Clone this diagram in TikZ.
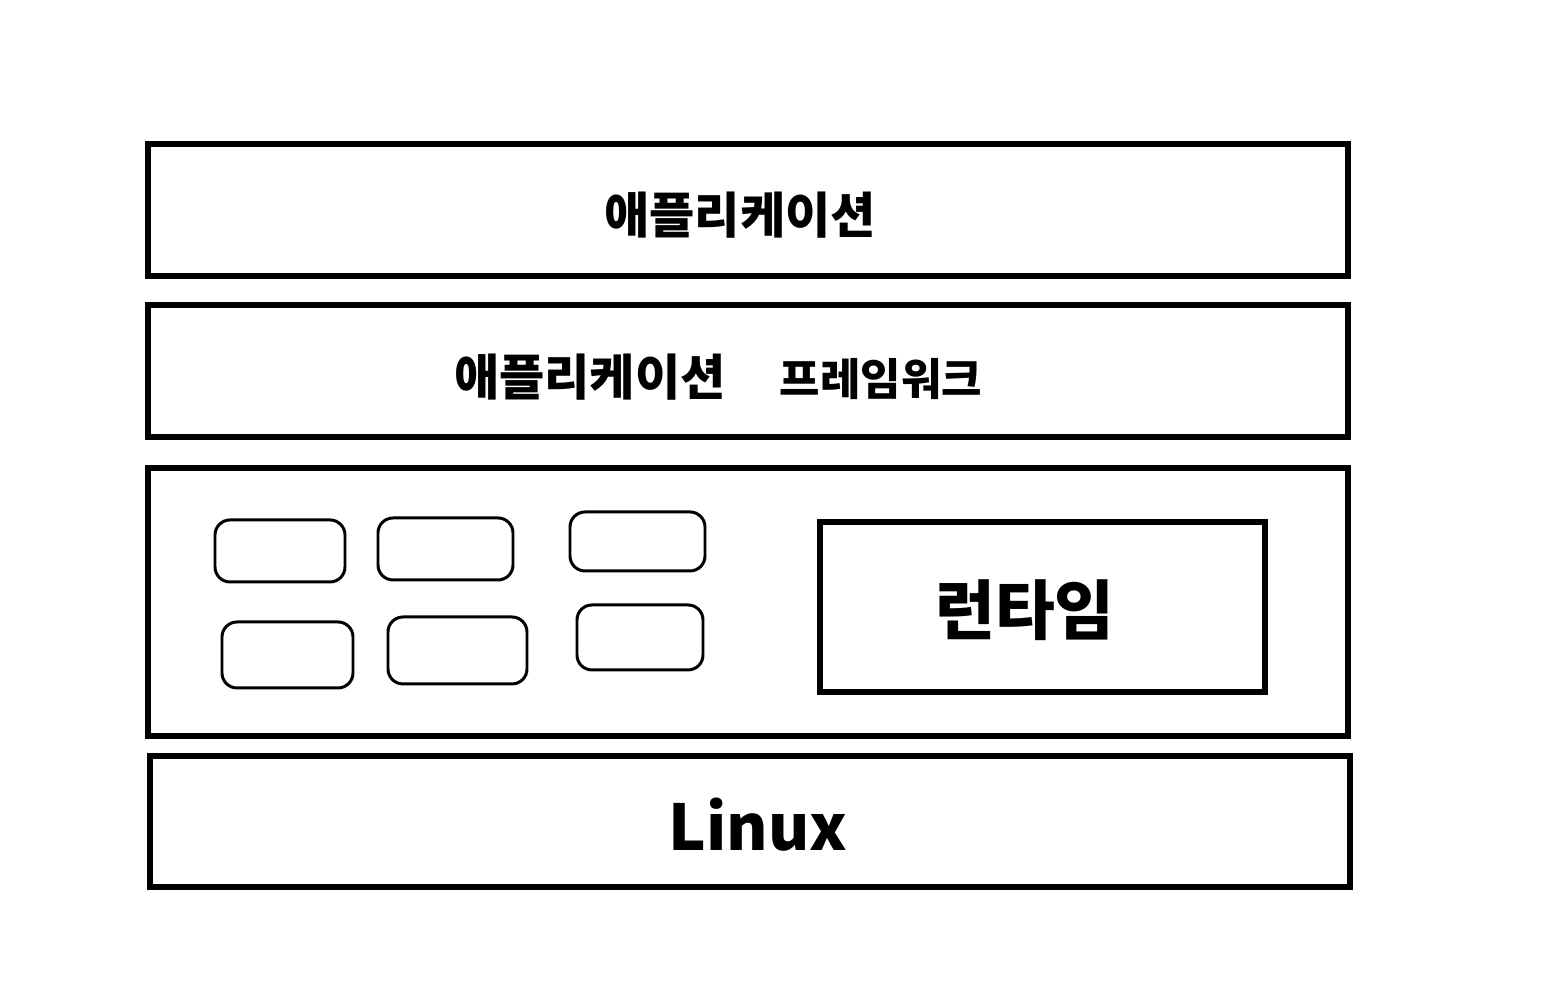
\documentclass[tikz,border=0pt]{standalone}
\usepackage{fontspec}
\setmainfont{Noto Sans CJK KR}
\usepackage{tikz}
\usetikzlibrary{positioning}
\tikzset{
    layer/.style={draw,line width=1.6pt,minimum width=12cm,minimum height=1.32cm,inner sep=0pt},
    slot/.style={draw,line width=0.85pt,rounded corners=1.5mm,inner sep=0pt},
    tag/.style={font=\bfseries\fontsize{14}{16}\selectfont,inner sep=0pt},
}

\begin{document}
\begin{tikzpicture}
    \useasboundingbox (0,0) rectangle (15.46,10);
    \node[layer] (app) at (7.48,7.90) {};
    \node[layer] (fw) at (7.48,6.29) {};
    \node[layer,minimum height=2.68cm] (mid) at (7.48,3.98) {};
    \node[layer,minimum height=1.31cm] (linux) at (7.50,1.785) {};
    \node[layer,minimum width=4.45cm,minimum height=1.70cm] (rt) at (10.425,3.93) {};

    \node[slot,minimum width=1.30cm,minimum height=0.62cm] (s1) at (2.80,4.49) {};
    \node[slot,minimum width=1.35cm,minimum height=0.62cm] (s2) at (4.455,4.51) {};
    \node[slot,minimum width=1.35cm,minimum height=0.59cm] (s3) at (6.375,4.585) {};
    \node[slot,minimum width=1.31cm,minimum height=0.66cm] (s4) at (2.875,3.45) {};
    \node[slot,minimum width=1.39cm,minimum height=0.67cm] (s5) at (4.575,3.495) {};
    \node[slot,minimum width=1.26cm,minimum height=0.65cm] (s6) at (6.40,3.625) {};

    \node[tag] (apptxt) at (7.40,7.85) {애플리케이션};
    \node[tag] (fwtxt) at (7.18,6.23) {애플리케이션\hspace{1.1em}{\fontsize{12.5}{14}\selectfont 프레임워크}};
    \node[tag,font=\bfseries\fontsize{18.5}{20}\selectfont] (rttxt) at (10.25,3.90) {런타임};
    \node[tag,font=\bfseries\fontsize{18}{20}\selectfont] (linuxtxt) at (7.58,1.75) {Linux};
\end{tikzpicture}
\end{document}
